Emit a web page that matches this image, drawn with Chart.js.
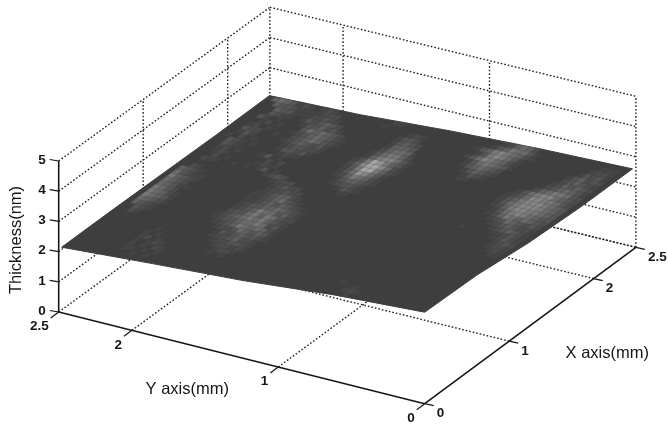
<!DOCTYPE html>
<html>
<head>
<meta charset="utf-8">
<style>
  html, body { margin: 0; padding: 0; background: #fff; }
  canvas { display: block; filter: blur(0.35px); }
</style>
<script src="https://cdn.jsdelivr.net/npm/chart.js@4/dist/chart.umd.min.js"></script>
</head>
<body>
<canvas id="surfaceChart" width="668" height="426"></canvas>
<script>
// Tick values and titles
const xTicks = [0, 1, 2, 2.5];
const yTicks = [0, 1, 2, 2.5];
const zTicks = [0, 1, 2, 3, 4, 5];
const xTitle = 'X axis(mm)';
const yTitle = 'Y axis(mm)';
const zTitle = 'Thickness(nm)';

// Surface height (nm), rows by X, columns by Y
const surfX = [0, 0.615, 1.23, 1.845, 2.46];
const surfY = [0, 0.62, 1.24, 1.86, 2.48];
const surfZ = [
    [3.03, 2.85, 2.57, 2.38, 2.17],
    [2.98, 2.78, 2.55, 2.36, 2.18],
    [2.78, 2.68, 2.50, 2.33, 2.17],
    [2.69, 2.63, 2.48, 2.30, 2.16],
    [2.68, 2.60, 2.47, 2.28, 2.18]
];

// Bright spots on a 40 x 60 cell grid: [row along X, first column along Y, brightness per cell]
const spotCentre = [
    [22, 32, '11'], [23, 31, '1231'], [24, 31, '123321'], [25, 30, '1234431'],
    [26, 30, '12456421'], [27, 30, '13578531'], [28, 29, '124699631'], [29, 29, '125799742'],
    [30, 29, '134689631'], [31, 29, '13577641'], [32, 30, '2466531'], [33, 30, '145542'],
    [34, 31, '34441'], [35, 31, '23431'], [36, 32, '2331'], [37, 32, '121']
];
const spotLeft = [
    [4, 37, '1 1'], [5, 36, '1221'], [6, 35, '121221'], [7, 35, '1233221'],
    [8, 35, '12243221'], [9, 34, '123343231'], [10, 34, '1343453221'], [11, 34, '12454564321'],
    [12, 34, '132565543321'], [13, 34, '123465654321'], [14, 34, '22356465332'], [15, 34, '12435564321'],
    [16, 34, '12345443321'], [17, 35, '1234343211'], [18, 36, '123543211'], [19, 37, '12443211'],
    [20, 38, '223221'], [21, 39, '22321'], [22, 41, '2221'], [23, 43, '2321'],
    [24, 45, '1 31'], [24, 50, '1 1'], [25, 46, '1121'], [26, 46, '2 2'], [27, 47, '1 31']
];
const spotTop = [
    [28, 45, '1121'], [29, 44, '132331'], [30, 43, '1223321'], [31, 43, '13234321'],
    [32, 42, '12345432'], [33, 42, '123454321'], [34, 43, '2345453'], [35, 44, '1324331'],
    [36, 45, '2343231'], [37, 46, '123221'], [38, 47, '22211'], [39, 48, '121']
];
const spotRightUpper = [
    [30, 19, '11'], [31, 17, '1231'], [32, 16, '123431'], [33, 16, '2345431'],
    [34, 15, '13456531'], [35, 15, '124567531'], [36, 15, '13567631'], [37, 14, '1245676431'],
    [38, 14, '13556431'], [39, 15, '245421']
];
const spotRightLower = [
    [15, 1, '11'], [16, 1, '121'], [17, 1, '1221'], [18, 1, '2321'], [19, 1, '12321'],
    [20, 1, '123211'], [20, 11, '1'], [21, 1, '1234321'], [22, 1, '12234321'], [23, 1, '232345321'],
    [24, 1, '2345456421'], [25, 1, '3345676531'], [26, 1, '34566776421'], [27, 1, '34567776531'],
    [28, 1, '34567776431'], [29, 1, '23566775321'], [30, 1, '2345776531'], [31, 1, '23566542'],
    [32, 1, '1345432'], [33, 1, '2343421'], [34, 1, '123432'], [35, 1, '232431'],
    [36, 1, '13231'], [37, 1, '1221'], [38, 1, '111']
];
const spotEdge = [
    [10, 56, '12'], [11, 55, '123'], [12, 55, '1234'], [13, 54, '12345'], [14, 54, '13456'],
    [15, 54, '12456'], [16, 55, '2356'], [17, 54, '11345'], [18, 55, '2345'], [19, 54, '12346'],
    [20, 54, '11235'], [21, 55, '1234'], [22, 56, '12'], [24, 55, '112'], [25, 54, '1 2'],
    [26, 55, '121'], [27, 54, '1 21'], [28, 55, '123'], [29, 53, '1 1'], [29, 56, '23'],
    [30, 54, '1 2 1'], [31, 55, '131'], [32, 52, '1'], [32, 55, '223'], [33, 54, '1 21'],
    [34, 53, '1 21'], [35, 54, '1 13'], [36, 53, '1123'], [37, 52, '11334'], [38, 52, '112334'],
    [39, 52, '1213454']
];
const spotFaint = [
    [0, 13, '1'], [1, 12, '121'], [2, 13, '1'], [3, 16, '1'],
    [1, 47, '1 1'], [2, 46, '1 1 11'], [3, 46, '12 1 1'], [4, 47, '121 1'],
    [5, 48, '1 21'], [6, 49, '1 1'], [7, 50, '1'], [39, 37, '11'], [38, 39, '1']
];

// View of the 3D box on the flat chart scales
function project(x, y, z) {
    return {
        x: 424.7 + 84.48 * x - 146.4 * y,
        y: 403.7 - 62.56 * x - 36.68 * y + 0.43 * x * y - 30.2 * z
    };
}

function heightAt(x, y) {
    const i = Math.min(Math.floor(x / surfX[1]), surfX.length - 2);
    const j = Math.min(Math.floor(y / surfY[1]), surfY.length - 2);
    const u = x / surfX[1] - i;
    const v = y / surfY[1] - j;
    return surfZ[i][j] * (1 - u) * (1 - v) + surfZ[i + 1][j] * u * (1 - v) +
        surfZ[i][j + 1] * (1 - u) * v + surfZ[i + 1][j + 1] * u * v;
}

const MAX_X = 2.5, MAX_Y = 2.5, MAX_Z = 5;
const DOT = { borderColor: '#222', borderWidth: 1.4, borderDash: [1.6, 2] };
const SOLID = { borderColor: '#161616', borderWidth: 1.6 };
const BASE_GRAY = '#3e3e3e';

function path(points, style) {
    return Object.assign({ type: 'line', data: points, pointRadius: 0, fill: false, tension: 0 }, style);
}

const datasets = [];

// Back walls and floor
zTicks.forEach(z => {
    datasets.push(path([project(0, MAX_Y, z), project(MAX_X, MAX_Y, z)], { ...DOT, order: 9 }));
    datasets.push(path([project(MAX_X, MAX_Y, z), project(MAX_X, 0, z)], { ...DOT, order: 9 }));
});
xTicks.filter(x => x > 0).forEach(x => {
    datasets.push(path([project(x, MAX_Y, 0), project(x, MAX_Y, MAX_Z)], { ...DOT, order: 9 }));
    datasets.push(path([project(x, 0, 0), project(x, MAX_Y, 0)], { ...DOT, order: 9 }));
});
yTicks.filter(y => y > 0 && y < MAX_Y).forEach(y => {
    datasets.push(path([project(MAX_X, y, 0), project(MAX_X, y, MAX_Z)], { ...DOT, order: 9 }));
    datasets.push(path([project(0, y, 0), project(MAX_X, y, 0)], { ...DOT, order: 9 }));
});
datasets.push(path([project(MAX_X, 0, 0), project(MAX_X, 0, MAX_Z)], { ...DOT, order: 9 }));

// Surface: filled between its near edge and its far edge
const lastX = surfX.length - 1, lastY = surfY.length - 1;
const nearEdge = [];
for (let j = lastY; j >= 0; j--) nearEdge.push(project(surfX[0], surfY[j], surfZ[0][j]));
for (let i = 1; i <= lastX; i++) nearEdge.push(project(surfX[i], surfY[0], surfZ[i][0]));
const farEdge = [];
for (let i = 0; i <= lastX; i++) farEdge.push(project(surfX[i], surfY[lastY], surfZ[i][lastY]));
for (let j = lastY - 1; j >= 0; j--) farEdge.push(project(surfX[lastX], surfY[j], surfZ[lastX][j]));

const nearIndex = datasets.length;
datasets.push(path(nearEdge, { borderColor: BASE_GRAY, borderWidth: 1, order: 8 }));
datasets.push(path(farEdge, { borderColor: BASE_GRAY, borderWidth: 1, backgroundColor: BASE_GRAY, fill: nearIndex, order: 8 }));

// Bright cells on the surface, one small soft parallelogram per brightness level
function cellSprite(level) {
    const c = document.createElement('canvas');
    c.width = 18;
    c.height = 12;
    const g = c.getContext('2d');
    const gray = Math.round(62 + 6 * level + 0.6 * level * level);
    g.filter = 'blur(0.7px)';
    g.fillStyle = 'rgb(' + gray + ',' + gray + ',' + gray + ')';
    g.translate(9, 6);
    g.beginPath();
    g.moveTo(-0.4, -2.5);
    g.lineTo(5.8, -1.3);
    g.lineTo(0.4, 2.5);
    g.lineTo(-5.8, 1.3);
    g.closePath();
    g.fill();
    return c;
}
const sprites = [];
for (let level = 0; level <= 9; level++) sprites.push(cellSprite(level));

const cellPoints = [];
const cellLevels = [];
[spotFaint, spotEdge, spotRightLower, spotRightUpper, spotTop, spotLeft, spotCentre].forEach(spot => {
    spot.forEach(([row, col, cells]) => {
        [...cells].forEach((cell, k) => {
            if (cell === ' ') return;
            const x = (row + 0.5) / 40 * surfX[lastX];
            const y = (col + k + 0.5) / 60 * surfY[lastY];
            cellPoints.push(project(x, y, heightAt(x, y)));
            cellLevels.push(Number(cell));
        });
    });
});
datasets.push({
    type: 'scatter',
    data: cellPoints,
    order: 7,
    pointStyle: ctx => sprites[cellLevels[ctx.dataIndex]],
    pointRadius: 4
});

// Axes with their ticks
const axisStyle = { ...SOLID, order: 1 };
const tickStyle = { ...SOLID, borderWidth: 1.2, order: 1 };
datasets.push(path([project(0, MAX_Y, 0), project(0, MAX_Y, MAX_Z)], axisStyle));
datasets.push(path([project(0, MAX_Y, 0), project(0, 0, 0)], axisStyle));
datasets.push(path([project(0, 0, 0), project(MAX_X, 0, 0)], axisStyle));
zTicks.forEach(z => {
    const p = project(0, MAX_Y, z);
    datasets.push(path([{ x: p.x - 9, y: p.y - 1.5 }, p], tickStyle));
});
yTicks.forEach(y => {
    const p = project(0, y, 0);
    datasets.push(path([{ x: p.x - 8, y: p.y + 6 }, p], tickStyle));
});
xTicks.forEach(x => {
    const p = project(x, 0, 0);
    datasets.push(path([p, { x: p.x + 9, y: p.y + 2 }], tickStyle));
});

// Tick labels and titles are placed from the same scales
const labelsPlugin = {
    id: 'boxLabels',
    afterDraw(chart) {
        const { ctx, scales } = chart;
        const put = (text, p, dx, dy, align, font) => {
            ctx.font = font;
            ctx.textAlign = align;
            ctx.textBaseline = 'middle';
            ctx.fillStyle = '#161616';
            ctx.fillText(text, scales.x.getPixelForValue(p.x) + dx, scales.y.getPixelForValue(p.y) + dy);
        };
        const tickFont = 'bold 13.5px "Liberation Sans", Arial, sans-serif';
        const titleFont = '16.5px "Liberation Sans", Arial, sans-serif';
        ctx.save();
        zTicks.forEach(z => put(String(z), project(0, MAX_Y, z), -13, -1, 'right', tickFont));
        yTicks.forEach(y => put(String(y), project(0, y, 0), -10, 14.5, 'right', tickFont));
        xTicks.forEach(x => put(String(x), project(x, 0, 0), 12, 10, 'left', tickFont));
        put(yTitle, { x: 187.3, y: 389.5 }, 0, 0, 'center', titleFont);
        put(xTitle, { x: 607.3, y: 353 }, 0, 0, 'center', titleFont);
        ctx.translate(scales.x.getPixelForValue(16.7), scales.y.getPixelForValue(240));
        ctx.rotate(-Math.PI / 2);
        ctx.font = titleFont;
        ctx.textAlign = 'center';
        ctx.textBaseline = 'middle';
        ctx.fillText(zTitle, 0, 0);
        ctx.restore();
    }
};

new Chart(document.getElementById('surfaceChart'), {
    type: 'line',
    data: { datasets },
    options: {
        responsive: false,
        animation: false,
        events: [],
        layout: { padding: 0, autoPadding: false },
        plugins: { legend: { display: false }, tooltip: { enabled: false }, title: { display: false } },
        scales: {
            x: { type: 'linear', min: 0, max: 668, display: false },
            y: { type: 'linear', min: 0, max: 426, reverse: true, display: false }
        }
    },
    plugins: [labelsPlugin]
});
</script>
</body>
</html>
